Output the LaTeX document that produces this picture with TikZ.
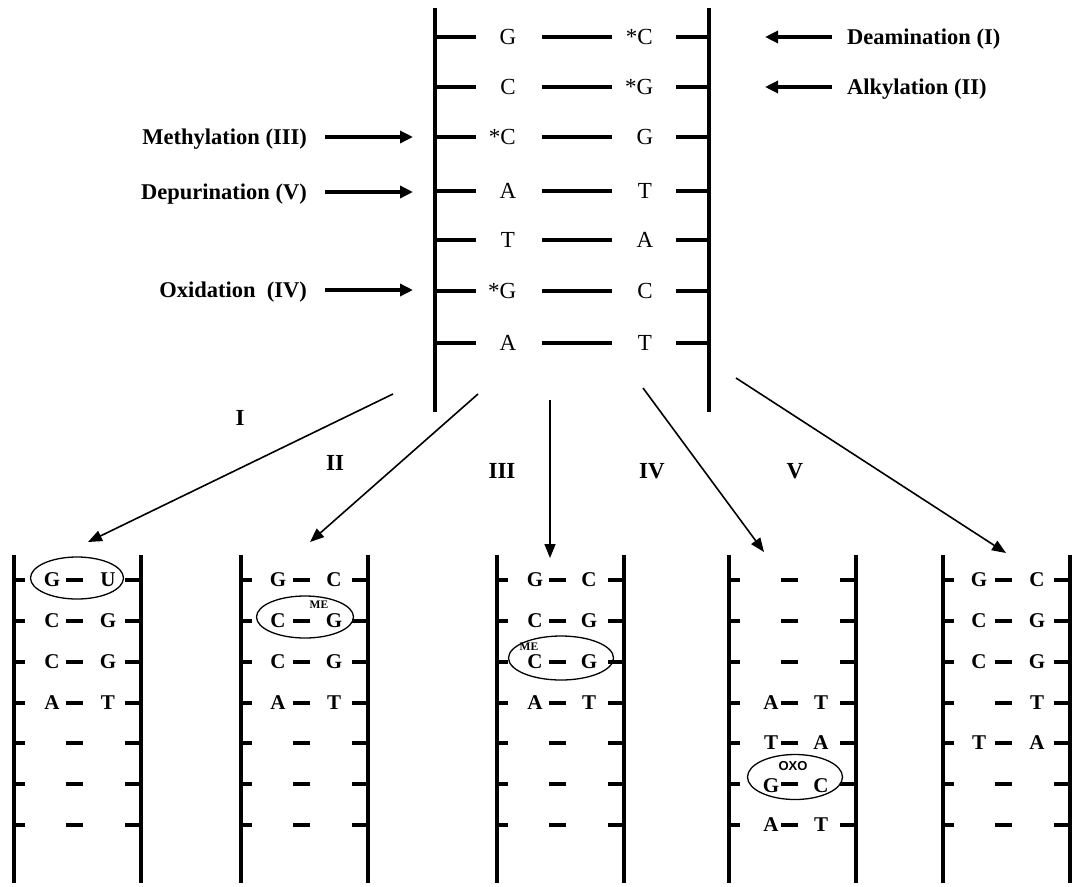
\documentclass[tikz,border=0pt]{standalone}
\usepackage{fontspec}
\setmainfont{Liberation Serif}
\newfontfamily\oxofont{Liberation Sans}
\usetikzlibrary{arrows.meta,shapes.geometric}
\newcommand\dnarung[2]{\draw[bstub] (#1,#2) -- ({#1+11},#2) ({#1+52},#2) -- ({#1+69},#2) ({#1+111},#2) -- ({#1+127},#2);}
\newcommand\dnaladder[1]{\draw[rail] (#1,555) -- (#1,883) ({#1+127},555) -- ({#1+127},883);
  \foreach \yy in {580,621,662,703,743,784,825} {\dnarung{#1}{\yy}}}
\begin{document}
\begin{tikzpicture}[x=1pt,y=-1pt,
  rail/.style={line width=4pt},
  rung/.style={line width=4pt},
  bstub/.style={line width=4pt},
  toplet/.style={font=\fontsize{23}{24}\selectfont, inner sep=0pt},
  botlet/.style={font=\bfseries\fontsize{21}{22}\selectfont, inner sep=0pt},
  lab/.style={font=\bfseries\fontsize{22.5}{24}\selectfont, inner sep=0pt},
  numlab/.style={font=\bfseries\fontsize{23}{25}\selectfont, inner sep=0pt},
  thickarrow/.style={line width=4pt, -{Triangle[length=13pt,width=12pt]}},
  thinarrow/.style={line width=1.6pt, -{Triangle[length=14pt,width=11pt]}},
  ring/.style={draw, ellipse, line width=1.3pt, inner sep=0pt},
  tag/.style={font=\bfseries\fontsize{11.5}{12}\selectfont, inner sep=0pt},
  oxo/.style={font=\oxofont\bfseries\fontsize{13}{14}\selectfont, inner sep=0pt},
]
\useasboundingbox (0,0) rectangle (1073,886);

% ---- top DNA ----
\draw[rail] (435,8) -- (435,412);
\draw[rail] (709,8) -- (709,412);
\foreach \i/\y/\l/\r in {1/37/G/{\llap{*}C},2/87/C/{\llap{*}G},3/137/{\llap{*}C}/G,4/191/A/T,5/240/T/A,6/291/{\llap{*}G}/C,7/343/A/T}{
  \draw[rung] (435,\y) -- (476,\y) (542,\y) -- (612,\y) (676,\y) -- (709,\y);
  \node[toplet] (tl\i) at (508,\y) {\l};
  \node[toplet] (tr\i) at (645,\y) {\r};
}

% ---- labels left ----
\node[lab, anchor=base east] (meth) at (307,144.5) {Methylation (III)};
\node[lab, anchor=base east] (depu) at (307,199.5) {Depurination (V)};
\node[lab, anchor=base east] (oxid) at (307,297.5) {Oxidation\ \ (IV)};
\coordinate (methA) at (325,137); \coordinate (methB) at (413,137);
\coordinate (depuA) at (325,192); \coordinate (depuB) at (413,192);
\coordinate (oxidA) at (325,290); \coordinate (oxidB) at (413,290);
\draw[thickarrow] (methA) -- (methB);
\draw[thickarrow] (depuA) -- (depuB);
\draw[thickarrow] (oxidA) -- (oxidB);

% ---- labels right ----
\node[lab, anchor=base west] (deam) at (847,44) {Deamination (I)};
\node[lab, anchor=base west] (alky) at (847,94) {Alkylation (II)};
\coordinate (deamA) at (832,37); \coordinate (deamB) at (765,37);
\coordinate (alkyA) at (832,87); \coordinate (alkyB) at (765,87);
\draw[thickarrow] (deamA) -- (deamB);
\draw[thickarrow] (alkyA) -- (alkyB);

% ---- branching arrows ----
\coordinate (sI) at (393,394);   \coordinate (tI) at (88,542);
\coordinate (sII) at (478,394);  \coordinate (tII) at (310,542);
\coordinate (sIII) at (550,400); \coordinate (tIII) at (550,558);
\coordinate (sIV) at (643,388);  \coordinate (tIV) at (764,552);
\coordinate (sV) at (736,378);   \coordinate (tV) at (1006,553);
\draw[thinarrow] (sI) -- (tI);
\draw[thinarrow] (sII) -- (tII);
\draw[thinarrow] (sIII) -- (tIII);
\draw[thinarrow] (sIV) -- (tIV);
\draw[thinarrow] (sV) -- (tV);
\node[numlab] (nI) at (240,418) {I};
\node[numlab] (nII) at (335,463) {II};
\node[numlab] (nIII) at (502,471) {III};
\node[numlab] (nIV) at (652,471) {IV};
\node[numlab] (nV) at (795,471) {V};

% ---- bottom ladders ----
\dnaladder{14}
\dnaladder{241}
\dnaladder{497}
\dnaladder{729}
\dnaladder{943}

% ladder 1
\foreach \n/\y/\l/\r in {1/580/G/U,2/621/C/G,3/662/C/G,4/703/A/T}{
  \node[botlet] (aL\n) at (52,\y) {\l};
  \node[botlet] (aR\n) at (108,\y) {\r};
}
\node[ring, minimum width=93pt, minimum height=42pt] (ov1) at (77,578) {};

% ladder 2
\foreach \n/\y/\l/\r in {1/580/G/C,2/621/C/G,3/662/C/G,4/703/A/T}{
  \node[botlet] (bL\n) at (278,\y) {\l};
  \node[botlet] (bR\n) at (334,\y) {\r};
}
\node[ring, minimum width=97pt, minimum height=42pt] (ov2) at (305,617) {};
\node[tag] (me2) at (319,605) {ME};

% ladder 3
\foreach \n/\y/\l/\r in {1/580/G/C,2/621/C/G,3/662/C/G,4/703/A/T}{
  \node[botlet] (cL\n) at (535,\y) {\l};
  \node[botlet] (cR\n) at (589,\y) {\r};
}
\node[ring, minimum width=105pt, minimum height=44pt] (ov3) at (561,658) {};
\node[tag] (me3) at (529,647) {ME};

% ladder 4
\foreach \n/\y/\l/\r in {4/703/A/T,5/743/T/A,6/786/G/C,7/825/A/T}{
  \node[botlet] (dL\n) at (771,\y) {\l};
  \node[botlet] (dR\n) at (821,\y) {\r};
}
\node[ring, minimum width=95pt, minimum height=45pt] (ov4) at (795,777) {};
\node[oxo] (ox4) at (793,766) {OXO};

% ladder 5
\foreach \n/\y/\l/\r in {1/580/G/C,2/621/C/G,3/662/C/G,5/743/T/A}{
  \node[botlet] (eL\n) at (979,\y) {\l};
  \node[botlet] (eR\n) at (1037,\y) {\r};
}
\node[botlet] (eR4) at (1037,703) {T};
\end{tikzpicture}
\end{document}
